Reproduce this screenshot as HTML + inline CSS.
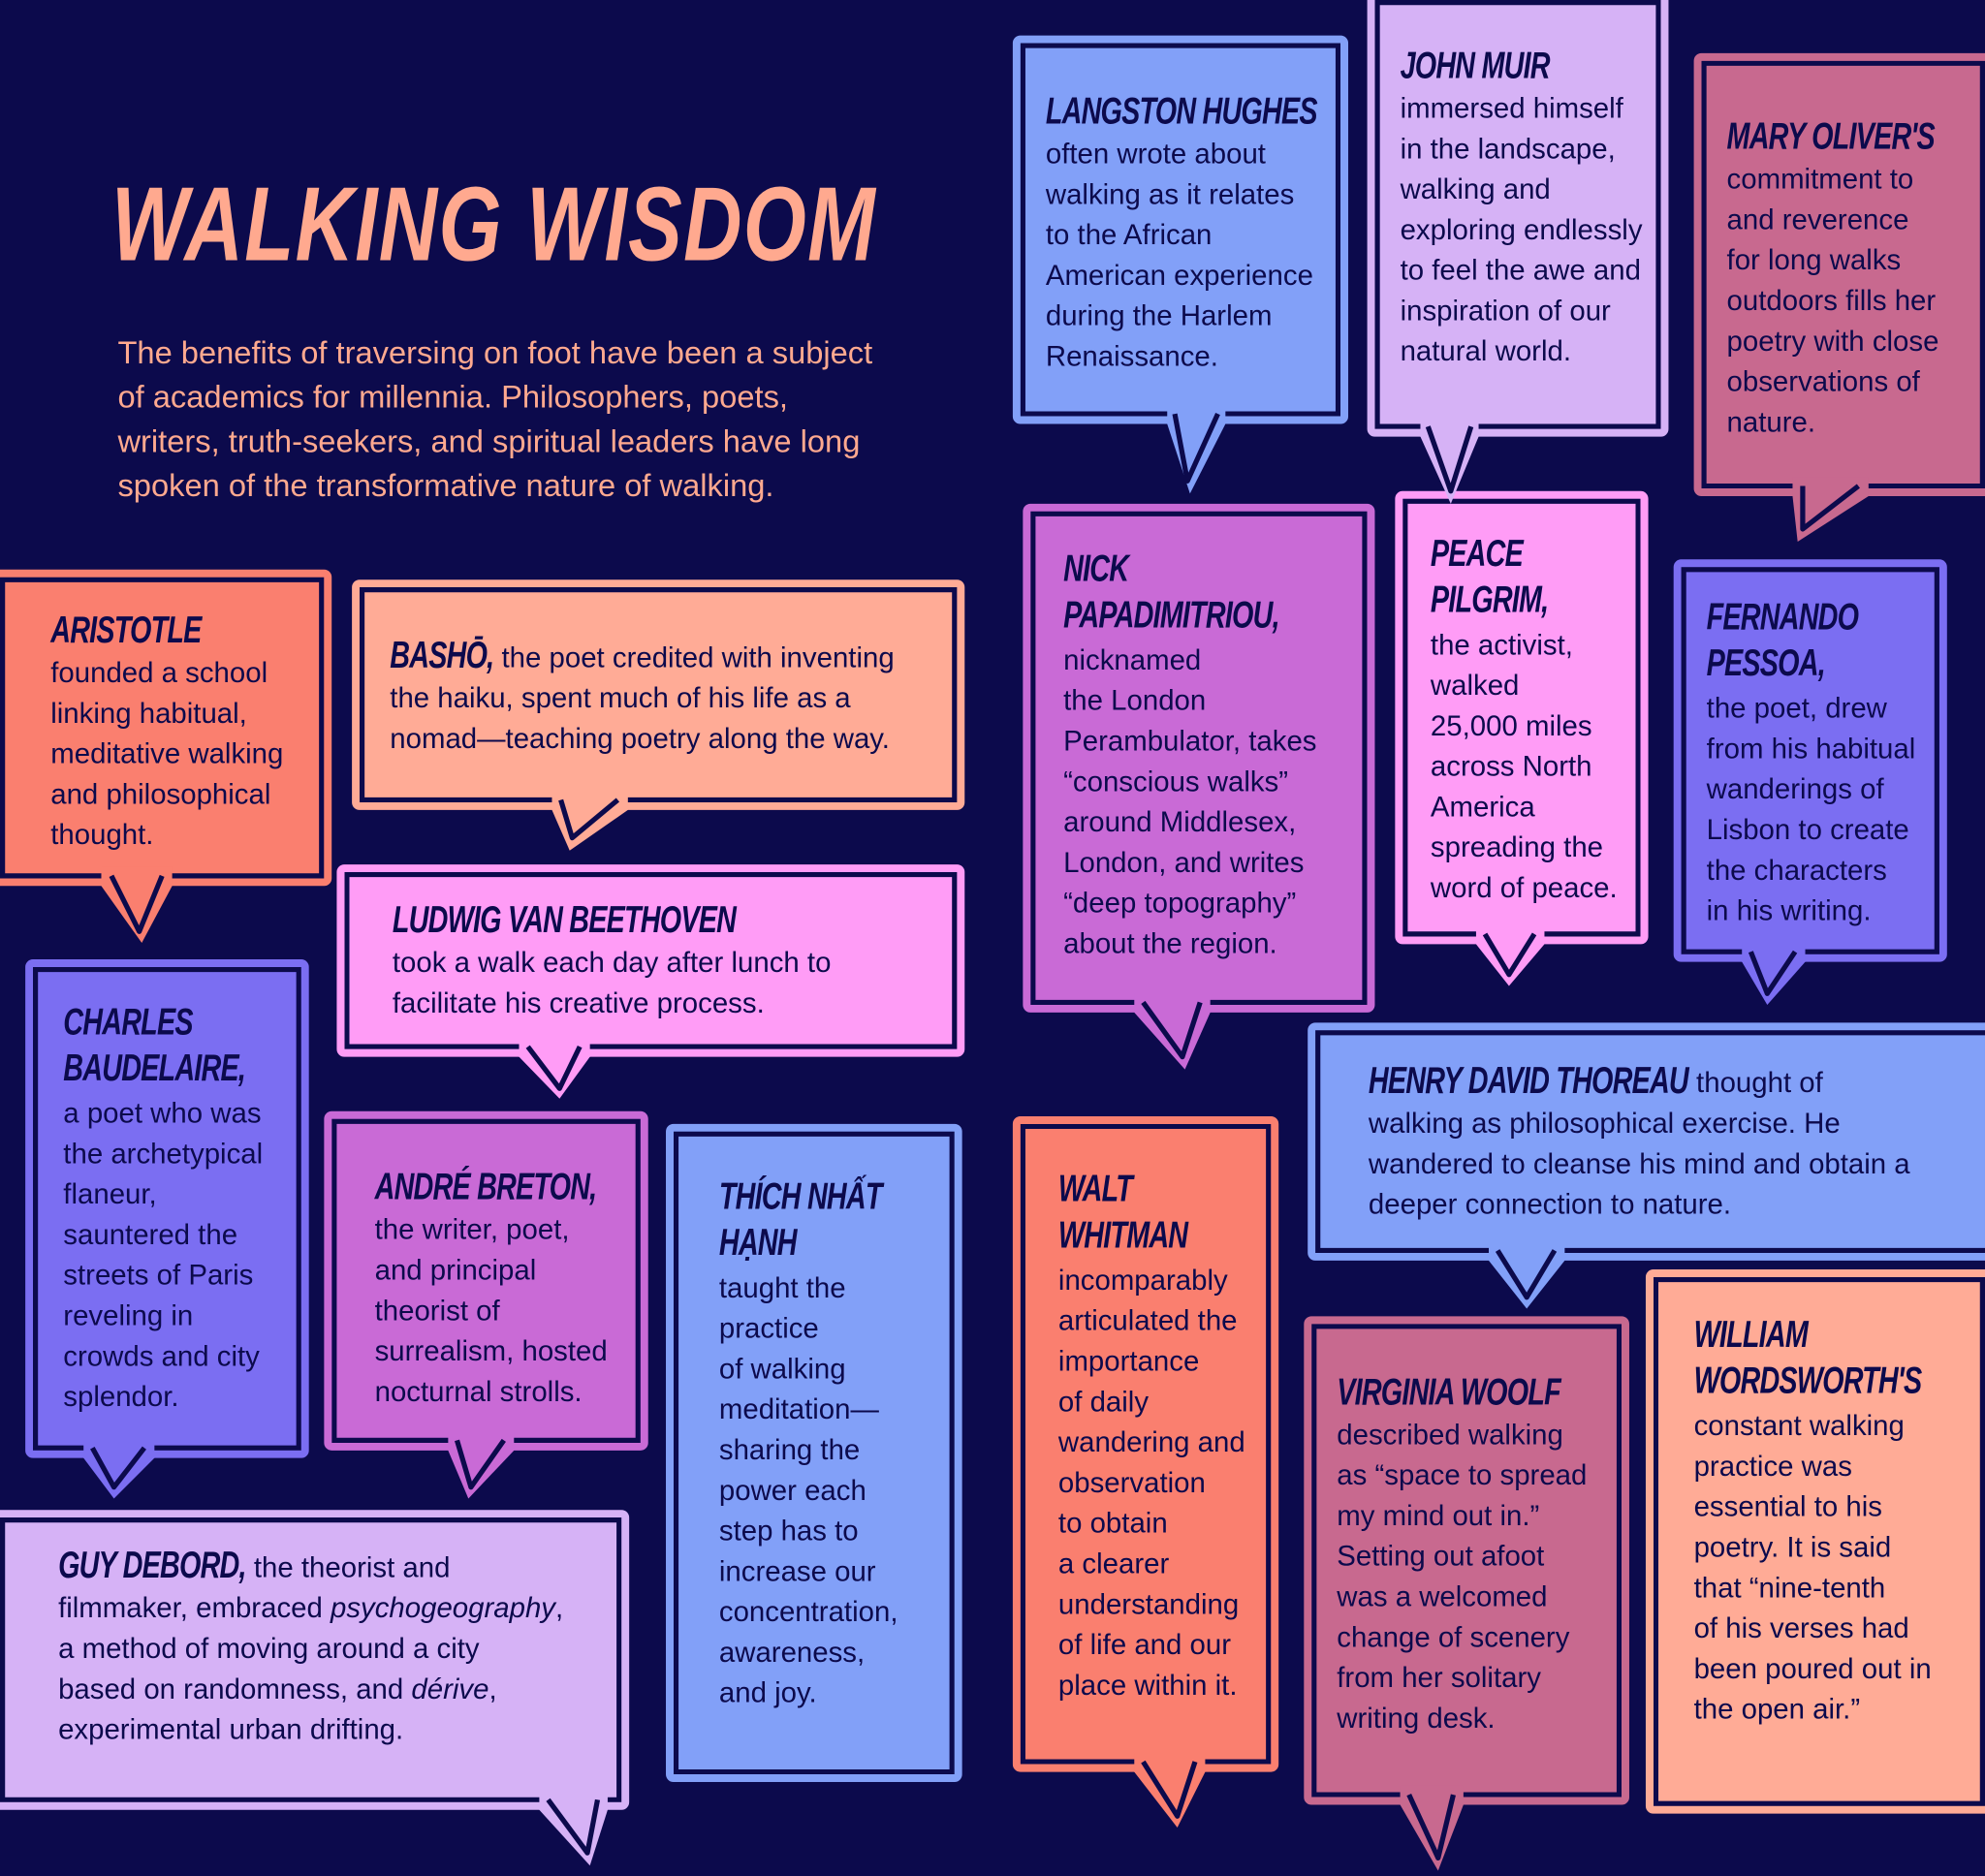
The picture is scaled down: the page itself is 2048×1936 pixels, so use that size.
<!DOCTYPE html>
<html><head><meta charset="utf-8"><style>
html,body{margin:0;padding:0;background:#0c0a4c;width:2048px;height:1935px;overflow:hidden}
#s{position:absolute;left:0;top:0;width:1568px;height:1482px;transform:scale(1.30612);transform-origin:0 0;font-family:"Liberation Sans",sans-serif;color:#0c0a4c}
.b{position:absolute;box-sizing:border-box;border:6px solid var(--c);background:var(--c);box-shadow:inset 0 0 0 4px #0c0a4c;border-radius:6px;padding:36px 18px 0 20px;font-size:22.5px;line-height:32px;white-space:nowrap}
.h{font-style:italic;font-weight:bold;font-size:22px;line-height:26px;letter-spacing:-0.6px;text-transform:uppercase;display:inline-block;transform:scaleY(1.35);transform-origin:0 70%}
.m .h{line-height:27px;margin-bottom:8px}
h1{position:absolute;left:88px;top:140px;margin:0;font-style:italic;font-weight:bold;font-size:64px;letter-spacing:1px;color:#ffa98f;transform:scaleY(1.3);transform-origin:0 50%;white-space:nowrap}
.intro{position:absolute;left:93px;top:262px;font-size:25px;line-height:35px;color:#ffa98f;white-space:nowrap}
svg{position:absolute;left:0;top:0}
</style></head><body><div id="s">
<h1>WALKING WISDOM</h1>
<div class="intro">The benefits of traversing on foot have been a subject<br>of academics for millennia. Philosophers, poets,<br>writers, truth-seekers, and spiritual leaders have long<br>spoken of the transformative nature of walking.</div>

<div class="b" style="--c:#82a0f8;left:800px;top:28px;width:265px;height:307px;padding-top:40px"><span class="h">Langston Hughes</span><br>often wrote about<br>walking as it relates<br>to the African<br>American experience<br>during the Harlem<br>Renaissance.</div>
<div class="b" style="--c:#d6b2f6;left:1080px;top:-6px;width:238px;height:351px;padding-top:38px"><span class="h">John Muir</span><br>immersed himself<br>in the landscape,<br>walking and<br>exploring endlessly<br>to feel the awe and<br>inspiration of our<br>natural world.</div>
<div class="b" style="--c:#c8698f;left:1338px;top:42px;width:236px;height:350px;padding-top:46px"><span class="h">Mary Oliver's</span><br>commitment to<br>and reverence<br>for long walks<br>outdoors fills her<br>poetry with close<br>observations of<br>nature.</div>
<div class="b" style="--c:#fa7f6f;left:-6px;top:450px;width:268px;height:250px;padding:28px 14px 0 40px"><span class="h">Aristotle</span><br>founded a school<br>linking habitual,<br>meditative walking<br>and philosophical<br>thought.</div>
<div class="b" style="--c:#ffab96;left:278px;top:458px;width:484px;height:182px;padding-top:40px;padding-left:24px"><span class="h">Bashō,</span> the poet credited with inventing<br>the haiku, spent much of his life as a<br>nomad—teaching poetry along the way.</div>
<div class="b" style="--c:#ff9cf6;left:266px;top:683px;width:496px;height:152px;padding-top:24px;padding-left:38px"><span class="h">Ludwig van Beethoven</span><br>took a walk each day after lunch to<br>facilitate his creative process.</div>
<div class="b m" style="--c:#c96ad6;left:808px;top:398px;width:278px;height:402px;padding-top:40px;padding-left:26px"><span class="h">Nick<br>Papadimitriou,</span><br>nicknamed<br>the London<br>Perambulator, takes<br>“conscious walks”<br>around Middlesex,<br>London, and writes<br>“deep topography”<br>about the region.</div>
<div class="b m" style="--c:#ff9cf6;left:1102px;top:388px;width:200px;height:358px;padding-top:38px;padding-left:22px"><span class="h">Peace<br>Pilgrim,</span><br>the activist,<br>walked<br>25,000 miles<br>across North<br>America<br>spreading the<br>word of peace.</div>
<div class="b m" style="--c:#7b6ef2;left:1322px;top:442px;width:216px;height:318px;padding-top:34px"><span class="h">Fernando<br>Pessoa,</span><br>the poet, drew<br>from his habitual<br>wanderings of<br>Lisbon to create<br>the characters<br>in his writing.</div>
<div class="b m" style="--c:#7b6ef2;left:20px;top:758px;width:224px;height:394px;padding-top:38px;padding-left:24px"><span class="h">Charles<br>Baudelaire,</span><br>a poet who was<br>the archetypical<br>flaneur,<br>sauntered the<br>streets of Paris<br>reveling in<br>crowds and city<br>splendor.</div>
<div class="b" style="--c:#c96ad6;left:256px;top:878px;width:256px;height:268px;padding-top:40px;padding-left:34px"><span class="h">André Breton,</span><br>the writer, poet,<br>and principal<br>theorist of<br>surrealism, hosted<br>nocturnal strolls.</div>
<div class="b m" style="--c:#82a0f8;left:526px;top:888px;width:234px;height:520px;padding-top:46px;padding-left:36px"><span class="h">Thích Nhất<br>Hạnh</span><br>taught the<br>practice<br>of walking<br>meditation—<br>sharing the<br>power each<br>step has to<br>increase our<br>concentration,<br>awareness,<br>and joy.</div>
<div class="b m" style="--c:#fa7f6f;left:800px;top:882px;width:210px;height:518px;padding-top:46px;padding-left:30px"><span class="h">Walt<br>Whitman</span><br>incomparably<br>articulated the<br>importance<br>of daily<br>wandering and<br>observation<br>to obtain<br>a clearer<br>understanding<br>of life and our<br>place within it.</div>
<div class="b" style="--c:#82a0f8;left:1033px;top:808px;width:545px;height:188px;padding-top:26px;padding-left:42px"><span class="h">Henry David Thoreau</span> thought of<br>walking as philosophical exercise. He<br>wandered to cleanse his mind and obtain a<br>deeper connection to nature.</div>
<div class="b" style="--c:#c8698f;left:1030px;top:1040px;width:257px;height:386px;padding-top:40px"><span class="h">Virginia Woolf</span><br>described walking<br>as “space to spread<br>my mind out in.”<br>Setting out afoot<br>was a welcomed<br>change of scenery<br>from her solitary<br>writing desk.</div>
<div class="b m" style="--c:#ffab96;left:1300px;top:1003px;width:274px;height:430px;padding-top:40px;padding-left:32px"><span class="h">William<br>Wordsworth's</span><br>constant walking<br>practice was<br>essential to his<br>poetry. It is said<br>that “nine-tenth<br>of his verses had<br>been poured out in<br>the open air.”</div>
<div class="b" style="--c:#d6b2f6;left:-6px;top:1193px;width:503px;height:237px;padding-top:24px;padding-left:46px"><span class="h">Guy Debord,</span> the theorist and<br>filmmaker, embraced <i>psychogeography</i>,<br>a method of moving around a city<br>based on randomness, and <i>dérive</i>,<br>experimental urban drifting.</div>

<svg width="1568" height="1482" viewBox="0 0 1568 1482">
<g stroke-linejoin="round">
<polygon fill="#82a0f8" points="922,320 968,320 968,335 940,390 922,335"/><polyline fill="none" stroke="#0c0a4c" stroke-width="4" points="928,327 938,380 962,327"/>
<polygon fill="#d6b2f6" points="1122,330 1168,330 1168,345 1146,398 1122,345"/><polyline fill="none" stroke="#0c0a4c" stroke-width="4" points="1128,337 1146,388 1162,337"/>
<polygon fill="#c8698f" points="1416,377 1476,377 1476,392 1420,428 1416,392"/><polyline fill="none" stroke="#0c0a4c" stroke-width="4" points="1424,384 1424,418 1468,384"/>
<polygon fill="#fa7f6f" points="80,685 136,685 136,700 112,745 80,700"/><polyline fill="none" stroke="#0c0a4c" stroke-width="4" points="88,692 110,736 128,692"/>
<polygon fill="#ffab96" points="436,625 496,625 496,640 450,672 436,640"/><polyline fill="none" stroke="#0c0a4c" stroke-width="4" points="443,632 452,662 488,632"/>
<polygon fill="#ff9cf6" points="410,820 466,820 466,835 442,868 410,835"/><polyline fill="none" stroke="#0c0a4c" stroke-width="4" points="417,827 442,860 458,827"/>
<polygon fill="#c96ad6" points="896,785 956,785 956,800 936,845 896,800"/><polyline fill="none" stroke="#0c0a4c" stroke-width="4" points="903,792 934,835 948,792"/>
<polygon fill="#ff9cf6" points="1166,731 1220,731 1220,746 1192,779 1166,746"/><polyline fill="none" stroke="#0c0a4c" stroke-width="4" points="1173,738 1192,770 1212,738"/>
<polygon fill="#7b6ef2" points="1376,745 1426,745 1426,760 1396,794 1376,760"/><polyline fill="none" stroke="#0c0a4c" stroke-width="4" points="1383,752 1396,785 1418,752"/>
<polygon fill="#7b6ef2" points="66,1137 122,1137 122,1152 90,1184 66,1152"/><polyline fill="none" stroke="#0c0a4c" stroke-width="4" points="73,1144 90,1175 114,1144"/>
<polygon fill="#c96ad6" points="354,1131 406,1131 406,1146 370,1184 354,1146"/><polyline fill="none" stroke="#0c0a4c" stroke-width="4" points="361,1138 372,1175 398,1138"/>
<polygon fill="#fa7f6f" points="896,1385 952,1385 952,1400 930,1444 896,1400"/><polyline fill="none" stroke="#0c0a4c" stroke-width="4" points="903,1392 930,1435 944,1392"/>
<polygon fill="#82a0f8" points="1176,981 1236,981 1236,996 1206,1034 1176,996"/><polyline fill="none" stroke="#0c0a4c" stroke-width="4" points="1183,988 1206,1025 1228,988"/>
<polygon fill="#c8698f" points="1106,1411 1156,1411 1156,1426 1136,1478 1106,1426"/><polyline fill="none" stroke="#0c0a4c" stroke-width="4" points="1113,1418 1136,1468 1148,1418"/>
<polygon fill="#d6b2f6" points="426,1415 480,1415 480,1430 466,1474 426,1430"/><polyline fill="none" stroke="#0c0a4c" stroke-width="4" points="433,1422 464,1464 472,1422"/>
</g>
</svg>
</div></body></html>
